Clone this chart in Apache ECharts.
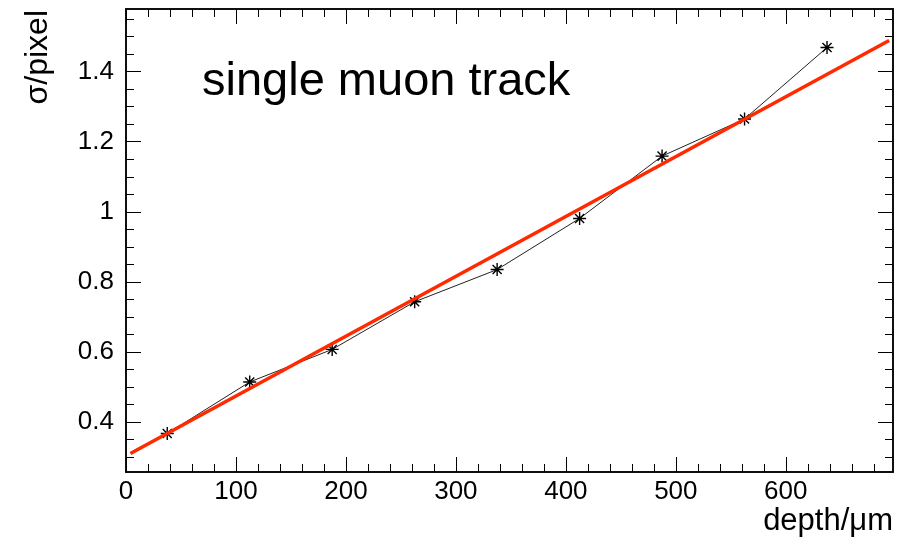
<!DOCTYPE html>
<html style="height: 100%">
<head>
    <meta charset="UTF-8">
    <title>single muon track</title>
    <script src="https://cdn.jsdelivr.net/npm/echarts@6/dist/echarts.min.js"></script>
</head>
<body style="height: 100%; margin: 0; background: #fff">
    <div id="main" style="width: 903px; height: 547px;"></div>
    <script>
        // measured points (depth in um, sigma in pixel)
        var depth = [37.5, 112.5, 187.5, 262.5, 337.5, 412.5, 487.5, 562.5, 637.5];
        var sigma = [0.367, 0.514, 0.607, 0.743, 0.835, 0.981, 1.159, 1.265, 1.469];
        // straight-line fit, end points
        var fitX = [4, 694];
        var fitY = [0.31, 1.489];

        // tick values
        var xMajor = [0, 100, 200, 300, 400, 500, 600];
        var xMinor = [20, 40, 60, 80, 120, 140, 160, 180, 220, 240, 260, 280, 320, 340, 360, 380,
            420, 440, 460, 480, 520, 540, 560, 580, 620, 640, 660, 680];
        var yMajor = [0.4, 0.6, 0.8, 1.0, 1.2, 1.4];
        var yMinor = [0.3, 0.35, 0.45, 0.5, 0.55, 0.65, 0.7, 0.75, 0.85, 0.9, 0.95,
            1.05, 1.1, 1.15, 1.25, 1.3, 1.35, 1.45, 1.5, 1.55];

        var xMin = 0, xMax = 697.5;
        var yMin = 0.257, yMax = 1.579;

        var points = depth.map(function (d, i) { return [d, sigma[i]]; });
        var fit = fitX.map(function (d, i) { return [d, fitY[i]]; });

        // asterisk marker
        var star = 'path://M0,5L10,5M5,0L5,10M1.5,1.5L8.5,8.5M1.5,8.5L8.5,1.5';

        var font = 'Liberation Sans, Arial, Helvetica, sans-serif';

        function xAxisDef(pos, values, len, labels) {
            return {
                type: 'value', position: pos, min: xMin, max: xMax,
                axisLine: { show: true, onZero: false, lineStyle: { color: '#000', width: 1.5 } },
                axisTick: { show: true, inside: true, length: len, customValues: values,
                    lineStyle: { color: '#000', width: 1 } },
                axisLabel: labels ? { show: true, customValues: values, color: '#000',
                    fontFamily: font, fontSize: 26, margin: 7 } : { show: false },
                splitLine: { show: false }
            };
        }
        function yAxisDef(pos, values, len, labels) {
            return {
                type: 'value', position: pos, min: yMin, max: yMax,
                axisLine: { show: true, onZero: false, lineStyle: { color: '#000', width: 1.5 } },
                axisTick: { show: true, inside: true, length: len, customValues: values,
                    lineStyle: { color: '#000', width: 1 } },
                axisLabel: labels ? { show: true, customValues: values, color: '#000',
                    fontFamily: font, fontSize: 26, margin: 12,
                    formatter: function (v) { return String(+v.toFixed(2)); } } : { show: false },
                splitLine: { show: false }
            };
        }

        var xAxes = [
            xAxisDef('bottom', xMajor, 15, true),
            xAxisDef('bottom', xMinor, 8, false),
            xAxisDef('top', xMajor, 15, false),
            xAxisDef('top', xMinor, 8, false)
        ];
        var yAxes = [
            yAxisDef('left', yMajor, 15, true),
            yAxisDef('left', yMinor, 8, false),
            yAxisDef('right', yMajor, 15, false),
            yAxisDef('right', yMinor, 8, false)
        ];

        var myChart = echarts.init(document.getElementById('main'), null, { renderer: 'canvas' });
        var option = {
            animation: false,
            backgroundColor: '#fff',
            grid: { left: 126, right: 10, top: 9, bottom: 75, containLabel: false },
            xAxis: xAxes,
            yAxis: yAxes,
            title: [
                {
                    text: 'single muon track', left: 197, top: 54,
                    textStyle: { color: '#000', fontFamily: font, fontSize: 47, fontWeight: 'normal' }
                }
            ],
            graphic: [
                {
                    type: 'text', right: 10, top: 506,
                    style: { text: 'depth/\u03bcm', fill: '#000', font: '31px ' + font }
                },
                {
                    type: 'text', left: 22, top: 10, rotation: Math.PI / 2,
                    style: { text: '\u03c3/pixel', fill: '#000', font: '32px ' + font }
                }
            ],
            series: [
                {
                    name: 'data', type: 'line', data: points,
                    symbol: star, symbolSize: 13,
                    itemStyle: { color: '#000', borderColor: '#000', borderWidth: 1.4 },
                    lineStyle: { color: '#222', width: 1 },
                    z: 3
                },
                {
                    name: 'fit', type: 'line', data: fit,
                    symbol: 'none',
                    lineStyle: { color: '#ff2a00', width: 3.5 },
                    z: 4
                }
            ]
        };
        myChart.setOption(option);
    </script>
</body>
</html>
